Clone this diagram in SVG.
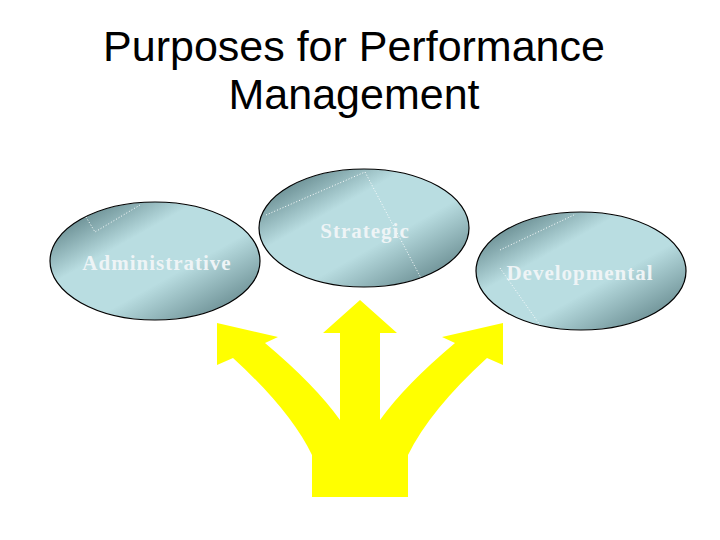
<svg xmlns="http://www.w3.org/2000/svg" width="720" height="540" viewBox="0 0 720 540">
<defs>
<linearGradient id="g" x1="0" y1="0" x2="1" y2="1">
<stop offset="0" stop-color="#3f6368"/>
<stop offset="0.35" stop-color="#b9dde1"/>
<stop offset="0.6" stop-color="#b9dde1"/>
<stop offset="1" stop-color="#4d7075"/>
</linearGradient>
<style>
.e{fill:url(#g);stroke:#000;stroke-width:1.2}
.t{font-family:"Liberation Serif",serif;font-weight:bold;font-size:21px;letter-spacing:1px;fill:#eef4f6;text-anchor:middle}
.d{stroke:#fff;stroke-width:1;stroke-dasharray:1 2;fill:none}
</style>
</defs>
<rect width="720" height="540" fill="#fff"/>
<text font-family="Liberation Sans,Arial,sans-serif" font-size="43" text-anchor="middle" fill="#000"><tspan x="354" y="61">Purposes for Performance</tspan><tspan x="354" y="109">Management</tspan></text>
<g id="connectors">
<path d="M312,497 L312,455 Q290,410 233,358 L217,365 L217,323 L278,337 L265,343 Q315,385 340,420 L340,333 L323,333 L360,300 L397,333 L380,333 L380,420 Q405,385 455,343 L442,337 L503,323 L503,365 L487,358 Q430,410 408,455 L408,497 Z" fill="#ffff00"/>
</g>
<g id="administrative">
<ellipse class="e" cx="155" cy="261" rx="105" ry="59"/>
<path class="d" d="M86,217 L95,232 L140,205"/>
<text class="t" x="157" y="270">Administrative</text>
</g>
<g id="strategic">
<ellipse class="e" cx="364" cy="228" rx="105" ry="59"/>
<path class="d" d="M266,215 L365,172 L422,280"/>
<text class="t" x="365" y="238">Strategic</text>
</g>
<g id="developmental">
<ellipse class="e" cx="581" cy="271" rx="105" ry="59"/>
<path class="d" d="M500,250 L576,214 M500,268 L540,325"/>
<text class="t" x="580" y="280">Developmental</text>
</g>
</svg>
